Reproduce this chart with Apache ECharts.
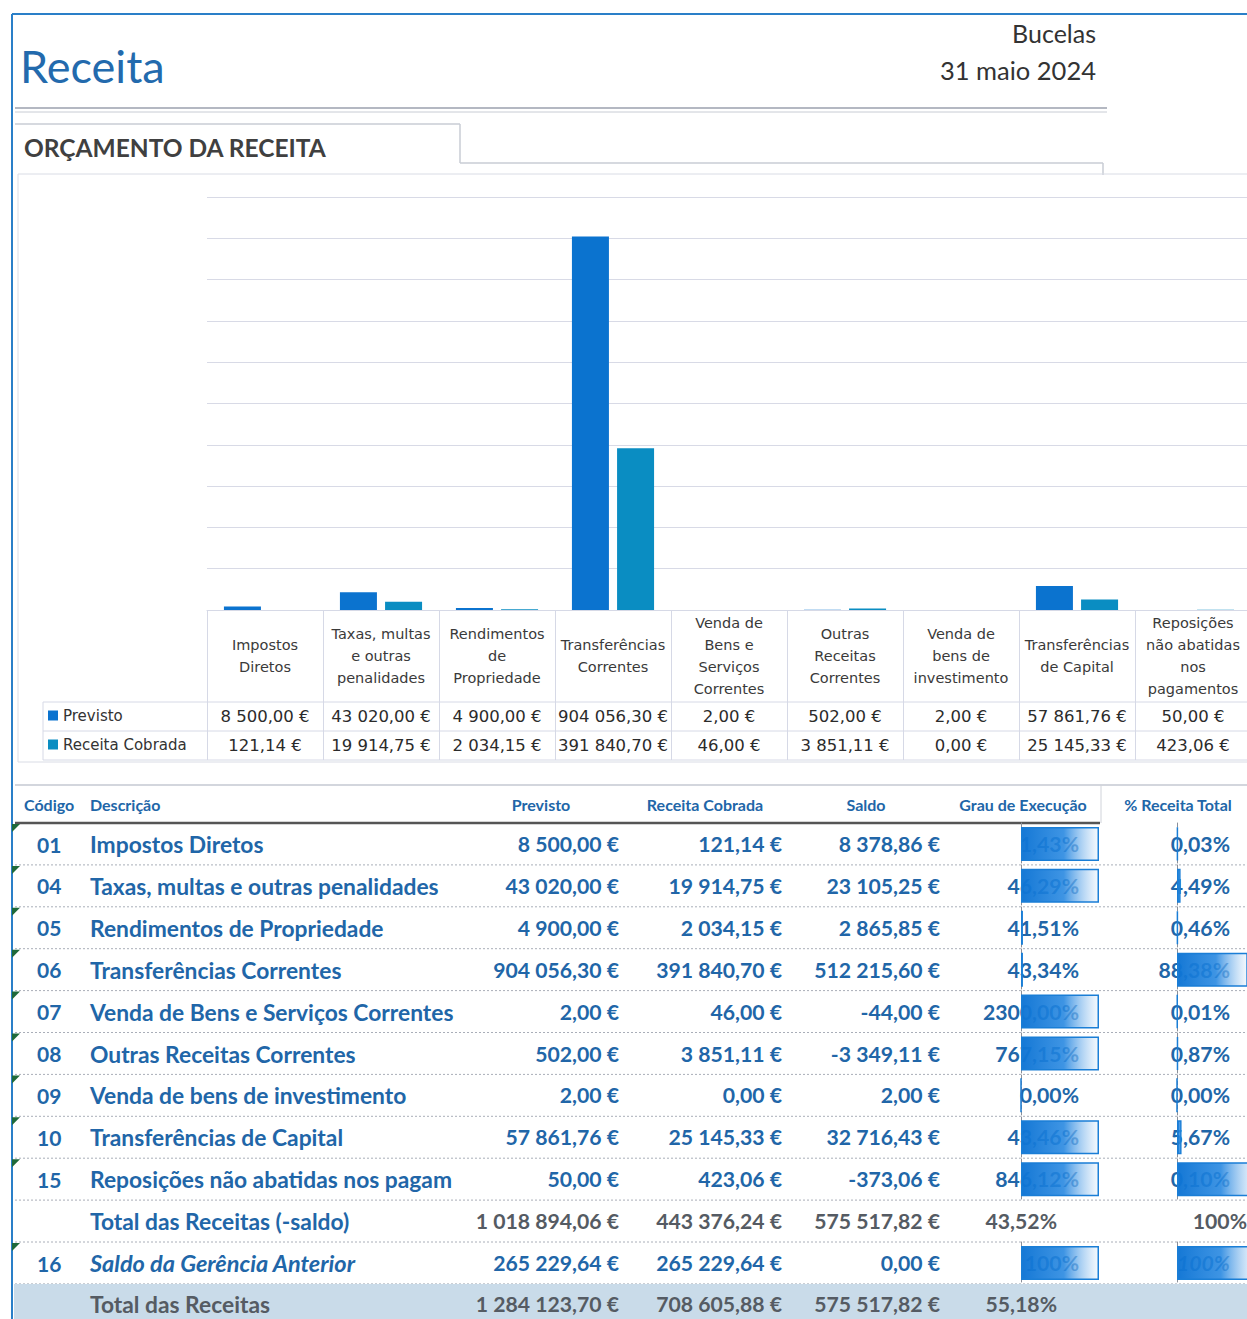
<!DOCTYPE html>
<html><head><meta charset="utf-8">
<script src="https://cdn.jsdelivr.net/npm/echarts@6/dist/echarts.min.js"></script>
<style>html,body{margin:0;padding:0;background:#fff}#c{width:1247px;height:1319px}</style>
</head><body><div id="c"></div>
<script>
// ---------- DATA ----------
const categories = ['Impostos\nDiretos','Taxas, multas\ne outras\npenalidades','Rendimentos\nde\nPropriedade','Transferências\nCorrentes','Venda de\nBens e\nServiços\nCorrentes','Outras\nReceitas\nCorrentes','Venda de\nbens de\ninvestimento','Transferências\nde Capital','Reposições\nnão abatidas\nnos\npagamentos'];
const rowCodes = ['01','04','05','06','07','08','09','10','15'];
const rowNames = ['Impostos Diretos','Taxas, multas e outras penalidades','Rendimentos de Propriedade','Transferências Correntes','Venda de Bens e Serviços Correntes','Outras Receitas Correntes','Venda de bens de investimento','Transferências de Capital','Reposições não abatidas nos pagamentos'];
const previsto = [8500.00, 43020.00, 4900.00, 904056.30, 2.00, 502.00, 2.00, 57861.76, 50.00];
const receitaCobrada = [121.14, 19914.75, 2034.15, 391840.70, 46.00, 3851.11, 0.00, 25145.33, 423.06];
const saldo = [8378.86, 23105.25, 2865.85, 512215.60, -44.00, -3349.11, 2.00, 32716.43, -373.06];
const grauExecucao = [1.43, 46.29, 41.51, 43.34, 2300.00, 767.15, 0.00, 43.46, 846.12];
const pctReceitaTotal = [0.03, 4.49, 0.46, 88.38, 0.01, 0.87, 0.00, 5.67, 0.10];
// data-bar lengths as drawn in the picture (fraction of cell)
const grauBarFill = [1, 1, 0.025, 0.025, 1, 1, 0, 1, 1];
const pctBarFill = [0.01, 0.045, 0.01, 0.885, 0.006, 0.012, 0, 0.057, 1];
const totalSemSaldo = [1018894.06, 443376.24, 575517.82];
const totalSemSaldoGrau = 43.52;
const saldoGerencia = [265229.64, 265229.64, 0.00];
const saldoGerenciaBarFill = [1];
const saldoGerenciaPctBarFill = [1];
const totalReceitas = [1284123.70, 708605.88, 575517.82];
const totalReceitasGrau = 55.18;
const yMax = 1000000, yStep = 100000;

// ---------- helpers ----------
function fmtEur(v){const neg=v<0;let s=Math.abs(v).toFixed(2).split('.');let i=s[0].replace(/\B(?=(\d{3})+(?!\d))/g,' ');return (neg?'-':'')+i+','+s[1]+' €';}
function fmtPct(v){return v.toFixed(2).replace('.',',')+'%';}

const C_PREV='#0b73cf', C_REC='#0a8dc2', BLUE='#2166a8', GREY='#555b63', LINE='#d6d9e6';
const FT='Lato, "Open Sans", sans-serif';
const FC='"DejaVu Sans", sans-serif';

const g=[];
function txt(x,y,t,font,fill,align,z){g.push({type:'text',x:x,y:y,z:z||1,style:{text:t,font:font,fill:fill,textAlign:align||'left',textVerticalAlign:'middle'}});}
function ln(x1,y1,x2,y2,stroke,w,dash){const st={stroke:stroke,lineWidth:w||1};if(dash)st.lineDash=dash;g.push({type:'line',z:0,shape:{x1,y1,x2,y2},style:st});}

// page frame
ln(12,14,1247,14,'#2a7fc8',2);
ln(12,14,12,1319,'#2a7fc8',2);
txt(20,66,'Receita','45px '+FT,'#236aad');
txt(1096,33,'Bucelas','25px '+FT,'#333','right');
txt(1096,70,'31 maio 2024','25.5px '+FT,'#333','right');
ln(15,108,1107,108,'#b4b8c2',2);
ln(15,112,1107,112,'#c8ccd4',1);
ln(15,124,460,124,'#c8ccd4',1.5);
ln(460,124,460,163,'#c8ccd4',1.5);
ln(460,163,1103,163,'#c8ccd4',1.5);
ln(1103,163,1103,175,'#c8ccd4',1.5);
txt(24,147,'ORÇAMENTO DA RECEITA','bold 24.5px '+FT,'#404040');
// chart frame
g.push({type:'rect',z:0,shape:{x:18,y:174,width:1240,height:588},style:{fill:'none',stroke:'#d9dce5',lineWidth:1}});
// chart data table lines
ln(43,702,1251,702,LINE,1);
ln(43,731,1251,731,LINE,1);
ln(43,760,1251,760,LINE,1);
ln(43,702,43,760,LINE,1);

// lower table
ln(15,785,1247,785,'#c5c9d2',1.5);
ln(1101,785,1101,823,'#d0d3da',1);
ln(15,823,1100,823,'#555',2.5);
const hf='bold 16px '+FT;
txt(24,804,'Código',hf,BLUE);
txt(90,804,'Descrição',hf,BLUE);
txt(541,804,'Previsto',hf,BLUE,'center');
txt(705,804,'Receita Cobrada',hf,BLUE,'center');
txt(866,804,'Saldo',hf,BLUE,'center');
txt(1023,804,'Grau de Execução',hf,BLUE,'center');
txt(1178,804,'% Receita Total',hf,BLUE,'center');

const top0=823, P=41.9;
const rf='bold 21.2px '+FT;   // numbers
const cf='bold 21px '+FT;     // codes
const df='bold 22.8px '+FT;   // descriptions
const dfi='italic bold 23.5px '+FT;
for(let k=1;k<=11;k++){ln(15,top0+P*k,1247,top0+P*k,'#a9aeb8',1,[2,2]);}
function cy(i){return top0+P*i+21;}
function tri(i){const t=top0+P*i+1;g.push({type:'polygon',z:2,shape:{points:[[12,t],[20,t],[12,t+8]]},style:{fill:'#1f6a3a'}});}
for(let i=0;i<rowCodes.length;i++){
  tri(i);
  txt(37,cy(i),rowCodes[i],cf,BLUE);
  g.push({type:'text',x:90,y:cy(i),z:1,style:{text:rowNames[i],font:df,fill:BLUE,textVerticalAlign:'middle',width:382,overflow:'truncate',ellipsis:''}});
  txt(619,cy(i),fmtEur(previsto[i]),rf,BLUE,'right');
  txt(782,cy(i),fmtEur(receitaCobrada[i]),rf,BLUE,'right');
  txt(940,cy(i),fmtEur(saldo[i]),rf,BLUE,'right');
  txt(1079,cy(i),fmtPct(grauExecucao[i]),rf,BLUE,'right');
  txt(1230,cy(i),fmtPct(pctReceitaTotal[i]),rf,BLUE,'right');
}
// total (-saldo)
txt(90,cy(9),'Total das Receitas (-saldo)',df,BLUE);
txt(619,cy(9),fmtEur(totalSemSaldo[0]),rf,GREY,'right');
txt(782,cy(9),fmtEur(totalSemSaldo[1]),rf,GREY,'right');
txt(940,cy(9),fmtEur(totalSemSaldo[2]),rf,GREY,'right');
txt(1057,cy(9),fmtPct(totalSemSaldoGrau),rf,GREY,'right');
txt(1247,cy(9),'100%',rf,GREY,'right');
// 16
tri(10);
txt(37,cy(10),'16',cf,BLUE);
txt(90,cy(10),'Saldo da Gerência Anterior',dfi,BLUE);
txt(619,cy(10),fmtEur(saldoGerencia[0]),rf,BLUE,'right');
txt(782,cy(10),fmtEur(saldoGerencia[1]),rf,BLUE,'right');
txt(940,cy(10),fmtEur(saldoGerencia[2]),rf,BLUE,'right');
txt(1079,cy(10),'100%',rf,BLUE,'right');
txt(1230,cy(10),'100%','italic bold 21.2px '+FT,BLUE,'right');
// total
g.push({type:'rect',z:0,shape:{x:14,y:top0+P*11,width:1233,height:40},style:{fill:'#c9dbe9'}});
txt(90,cy(11)-1,'Total das Receitas',df,GREY);
txt(619,cy(11)-1,fmtEur(totalReceitas[0]),rf,GREY,'right');
txt(782,cy(11)-1,fmtEur(totalReceitas[1]),rf,GREY,'right');
txt(940,cy(11)-1,fmtEur(totalReceitas[2]),rf,GREY,'right');
txt(1057,cy(11)-1,fmtPct(totalReceitasGrau),rf,GREY,'right');

// ---------- chart ----------
const barGrad={type:'linear',x:0,y:0,x2:1,y2:0,colorStops:[{offset:0,color:'rgba(14,116,212,0.97)'},{offset:0.55,color:'rgba(36,134,224,0.88)'},{offset:1,color:'rgba(236,244,252,0.55)'}]};
function dbGrid(left,top,width,height){return {left:left,top:top,width:width,height:height,containLabel:false,outerBoundsMode:'none'};}
function dbX(gi){return {type:'value',gridIndex:gi,min:0,max:1,show:false};}
function dbY(gi,rows){return {type:'category',gridIndex:gi,inverse:true,data:rows,axisLine:{show:true,lineStyle:{color:'#8a8f99',type:'dashed',width:1}},axisTick:{show:false},axisLabel:{show:false},splitLine:{show:false}};}
function dbSeries(gi,data){return {type:'bar',xAxisIndex:gi+2,yAxisIndex:gi,data:data,barWidth:34,z:5,silent:true,itemStyle:{color:barGrad,borderColor:'#1a7ed6',borderWidth:1.5}};}

const option={
  animation:false,
  textStyle:{fontFamily:FC},
  legend:{orient:'vertical',left:48,top:708,itemWidth:10,itemHeight:10,itemGap:14,icon:'rect',padding:0,textStyle:{fontFamily:FC,fontSize:15,color:'#333'},data:['Previsto','Receita Cobrada']},
  grid:[
    {left:207,top:197,width:1044,height:413,containLabel:false,outerBoundsMode:'none'},
    dbGrid(1021,top0,78,P*9),
    dbGrid(1177,top0,80,P*9),
    dbGrid(1021,top0+P*10,78,P),
    dbGrid(1177,top0+P*10,80,P)
  ],
  xAxis:[
    {type:'category',gridIndex:0,data:categories,position:'bottom',axisLine:{lineStyle:{color:LINE}},axisTick:{show:true,length:150,lineStyle:{color:LINE}},axisLabel:{interval:0,margin:46,verticalAlign:'middle',lineHeight:21.7,fontFamily:FC,fontSize:14.5,color:'#3a3a3a'}},
    {type:'category',gridIndex:0,data:previsto.map(fmtEur),position:'bottom',axisLine:{show:false},axisTick:{show:false},axisLabel:{interval:0,margin:106,verticalAlign:'middle',fontFamily:FC,fontSize:16.5,color:'#2b2b2b'}},
    {type:'category',gridIndex:0,data:receitaCobrada.map(fmtEur),position:'bottom',axisLine:{show:false},axisTick:{show:false},axisLabel:{interval:0,margin:135,verticalAlign:'middle',fontFamily:FC,fontSize:16.5,color:'#2b2b2b'}},
    dbX(1),dbX(2),dbX(3),dbX(4)
  ],
  yAxis:[
    {type:'value',gridIndex:0,min:0,max:yMax,interval:yStep,axisLabel:{show:false},axisLine:{show:false},axisTick:{show:false},splitLine:{lineStyle:{color:'#d8dae6'}}},
    dbY(1,rowCodes),dbY(2,rowCodes),dbY(3,['16']),dbY(4,['16'])
  ],
  series:[
    {name:'Previsto',type:'bar',xAxisIndex:0,yAxisIndex:0,data:previsto,barWidth:37,barGap:'22%',itemStyle:{color:C_PREV}},
    {name:'Receita Cobrada',type:'bar',xAxisIndex:0,yAxisIndex:0,data:receitaCobrada,barWidth:37,barGap:'22%',itemStyle:{color:C_REC}},
    dbSeries(1,grauBarFill),
    dbSeries(2,pctBarFill),
    dbSeries(3,saldoGerenciaBarFill),
    dbSeries(4,saldoGerenciaPctBarFill)
  ],
  graphic:{elements:g}
};
const ch=echarts.init(document.getElementById('c'),null,{renderer:'svg'});
ch.setOption(option);
</script></body></html>
